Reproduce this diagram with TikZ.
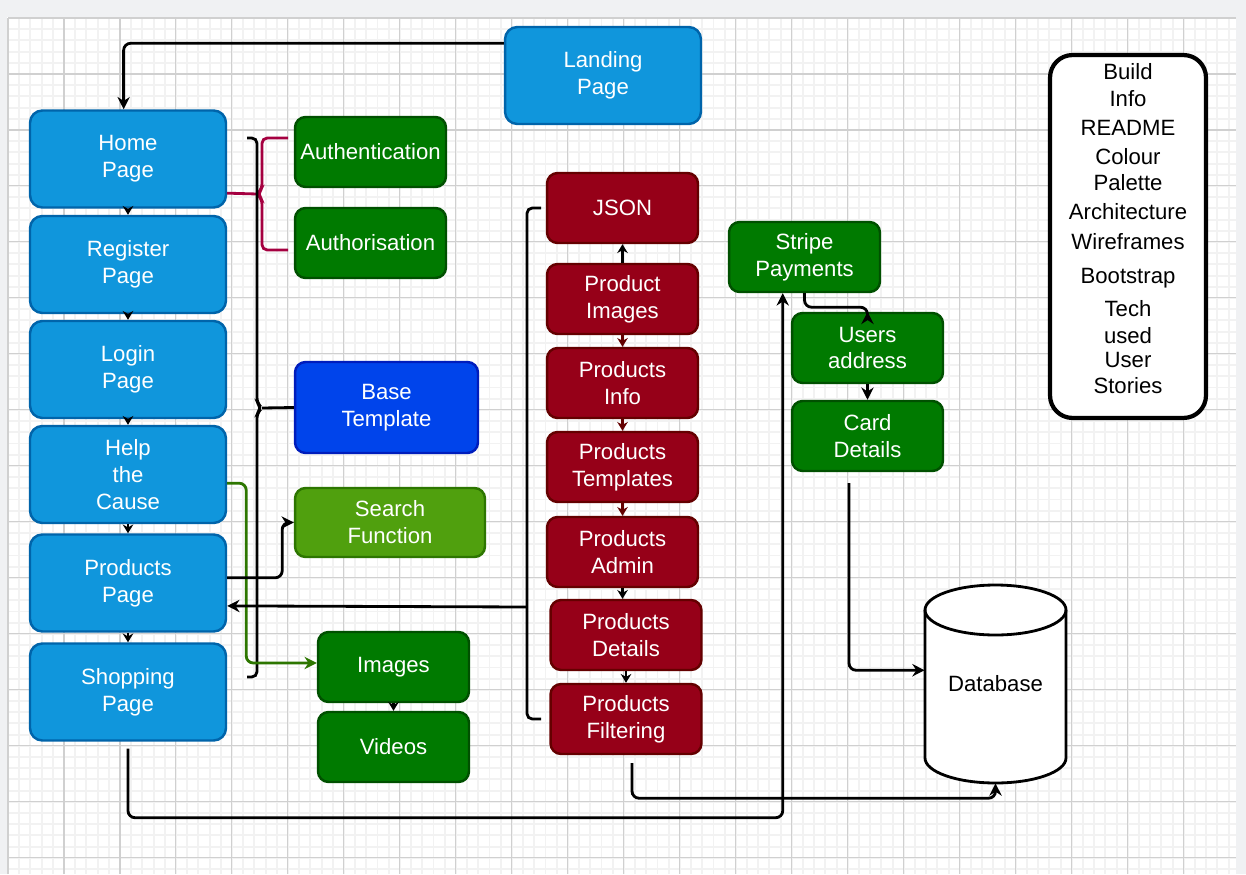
\documentclass[tikz,border=0pt]{standalone}
\usepackage{fontspec}
\setmainfont{Liberation Sans}
\usetikzlibrary{arrows.meta}

\definecolor{pageblue}{RGB}{16,150,220}
\definecolor{pageblueline}{RGB}{0,100,170}
\definecolor{featgreen}{RGB}{0,122,0}
\definecolor{featgreenline}{RGB}{0,80,0}
\definecolor{baseblue}{RGB}{0,68,235}
\definecolor{baseblueline}{RGB}{0,29,188}
\definecolor{searchgreen}{RGB}{80,160,14}
\definecolor{searchgreenline}{RGB}{45,118,0}
\definecolor{prodred}{RGB}{150,0,24}
\definecolor{prodredline}{RGB}{100,0,0}
\definecolor{bracered}{RGB}{165,0,64}
\definecolor{linkgreen}{RGB}{45,118,0}
\definecolor{gridmajor}{RGB}{208,208,208}
\definecolor{gridminor}{RGB}{242,242,242}
\definecolor{outside}{RGB}{240,241,243}

\begin{document}
\begin{tikzpicture}
        [x=0.02cm, y=0.02cm,
        font=\fontsize{12.6}{15.3}\selectfont,
        blockbox/.style={rounded corners=6pt, line width=1.4pt, align=center, text=white, inner sep=2pt},
        pagebox/.style={blockbox, fill=pageblue, draw=pageblueline, minimum width=3.92cm, minimum height=1.94cm, rounded corners=7pt},
        featurebox/.style={blockbox, fill=featgreen, draw=featgreenline, minimum width=3.02cm, minimum height=1.4cm},
        basebox/.style={blockbox, fill=baseblue, draw=baseblueline, minimum width=3.66cm, minimum height=1.82cm},
        searchbox/.style={blockbox, fill=searchgreen, draw=searchgreenline, minimum width=3.8cm, minimum height=1.38cm},
        productbox/.style={blockbox, fill=prodred, draw=prodredline, minimum width=3.02cm, minimum height=1.4cm},
        infobox/.style={draw, fill=white, line width=2.4pt, rounded corners=0.45cm, minimum width=3.12cm, minimum height=7.26cm},
        infolist/.style={align=center, inner sep=0pt},
        dbbox/.style={minimum width=2.82cm, minimum height=3.96cm, inner sep=0pt},
        link/.style={line width=1.6pt, black, rounded corners=4pt, -{Stealth[length=7pt,width=7pt]}},
        chainlink/.style={line width=1.2pt, black, -{Stealth[length=5pt,width=6pt]}},
        greenlink/.style={link, linkgreen},
        bracelink/.style={line width=1.6pt, bracered},
        blackbrace/.style={line width=1.6pt, black}]

        % canvas and grid
        \fill[outside] (0,0) rectangle (1246,-874);
        \fill[white] (7,-17) rectangle (1236,-874);
        \begin{scope}[shift={(8,-18)}]
            \draw[gridminor, line width=1.1pt, step=0.224cm] (0,-856) grid (1228,0);
            \draw[gridmajor, line width=0.6pt, step=1.12cm] (0,-856) grid (1228,0);
        \end{scope}

        % pages
        \node[pagebox] (landing) at (603,-75.5) {Landing\\Page};
        \node[pagebox] (home) at (128,-159) {Home\\Page};
        \node[pagebox] (register) at (128,-264.5) {Register\\Page};
        \node[pagebox] (login) at (128,-369.5) {Login\\Page};
        \node[pagebox] (help) at (128,-474.5) {Help\\the\\Cause};
        \node[pagebox] (products) at (128,-583) {Products\\Page};
        \node[pagebox] (shopping) at (128,-692) {Shopping\\Page};

        % features
        \node[featurebox] (authn) at (370.5,-152) {Authentication};
        \node[featurebox] (authz) at (370.5,-243) {Authorisation};
        \node[basebox] (base) at (386.5,-407.5) {Base\\Template};
        \node[searchbox] (search) at (390,-522.5) {Search\\Function};
        \node[featurebox] (images) at (393.5,-667) {Images};
        \node[featurebox] (videos) at (393.5,-747) {Videos};

        % products app
        \node[productbox] (json) at (622.5,-208) {JSON};
        \node[productbox] (pimages) at (622.5,-299) {Product\\Images};
        \node[productbox] (pinfo) at (622.5,-383) {Products\\Info};
        \node[productbox] (ptemplates) at (622.5,-467) {Products\\Templates};
        \node[productbox] (padmin) at (622.5,-552) {Products\\Admin};
        \node[productbox] (pdetails) at (626,-635) {Products\\Details};
        \node[productbox] (pfilter) at (626,-719) {Products\\Filtering};

        % checkout
        \node[featurebox] (stripe) at (804.5,-257) {Stripe\\Payments};
        \node[featurebox] (users) at (867.5,-348) {Users\\address};
        \node[featurebox] (card) at (867.5,-436) {Card\\Details};

        % database
        \draw[line width=1.6pt, fill=white] (925,-610) -- (925,-758)
            arc[start angle=180, end angle=360, x radius=1.41cm, y radius=0.5cm] -- (1066,-610)
            arc[start angle=0, end angle=180, x radius=1.41cm, y radius=0.5cm] -- cycle;
        \draw[line width=1.6pt] (925,-610) arc[start angle=180, end angle=360, x radius=1.41cm, y radius=0.5cm];
        \node[dbbox] (database) at (995.5,-684) {Database};

        % build info
        \node[infobox] (info) at (1128,-236.5) {};
        \node[infolist] (infolist) at (1128,-229) {Build\\Info\\[1pt]README\\[1pt]Colour\\Palette\\[1pt]Architecture\\[1.5pt]Wireframes\\[4.5pt]Bootstrap\\[3.5pt]Tech\\used\\[-2pt]User\\Stories};

        % landing page to home page
        \draw[link] (landing.162) -| (home.95.8);

        % page chain
        \foreach \a/\b in {home/register, register/login, login/help, help/products, products/shopping}
            \draw[chainlink] (\a) -- (\b);

        % auth brace
        \coordinate (authtip) at (257,-194);
        \draw[bracelink] (home.-19.7) -- (authtip);
        \draw[bracelink, rounded corners=3pt] (288,-138) -- (262,-138) -- (262,-189) -- (authtip) -- (262,-199) -- (262,-250) -- (288,-250);

        % base template brace
        \coordinate (basetip) at (262,-408);
        \draw[blackbrace, rounded corners=3pt] (247,-138) -- (257,-138) -- (257,-403) -- (basetip) -- (257,-413) -- (257,-677) -- (247,-677);
        \draw[blackbrace] (basetip) -- (base.west);

        % help the cause to images
        \draw[greenlink] (help.-5) -- ++(19,0) |- (images.177);

        % products page to search
        \draw[link] (products.3) -- ++(55,0) |- (search.west);

        % products app back to products page
        \coordinate (prodtail) at (527,-607);
        \draw[blackbrace, rounded corners=3pt] (541,-208) -- (527,-208) -- (527,-719) -- (541,-719);
        \draw[link] (prodtail) -- (products.-13.8);

        % product chain
        \draw[chainlink] (pimages) -- (json);
        \draw[chainlink, prodredline] (pimages) -- (pinfo);
        \draw[chainlink, prodredline] (pinfo) -- (ptemplates);
        \draw[chainlink, prodredline] (ptemplates) -- (padmin);
        \draw[chainlink] (padmin.south) -- (padmin.south |- pdetails.north);
        \draw[chainlink] (pdetails) -- (pfilter);
        \draw[chainlink] (images) -- (videos);

        % checkout flow
        \draw[link] (stripe.south) -- ++(0,-14) -| (users.north);
        \draw[link] (users) -- (card);
        \draw[link] ([shift={(-18.5,-11)}]card.south) |- (database.169);
        \draw[link] ([shift={(6,-8)}]pfilter.south) -- ++(0,-35) -| (database.south);
        \draw[link] ([shift={(0,-7)}]shopping.south) -- ++(0,-69) -| (stripe.239.6);

    \end{tikzpicture}
\end{document}
